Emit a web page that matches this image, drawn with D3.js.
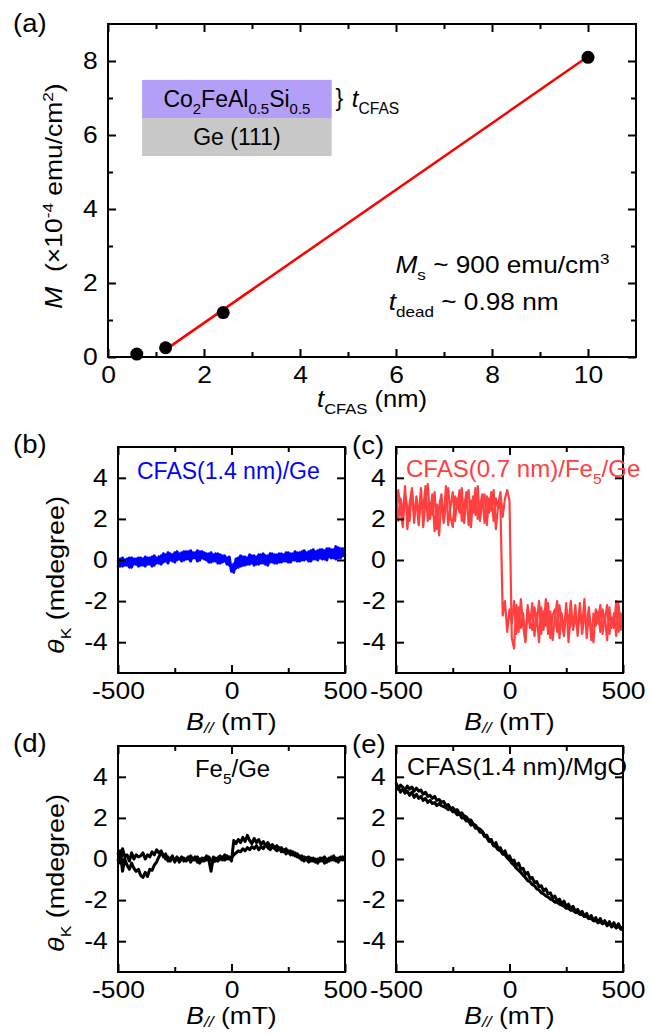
<!DOCTYPE html>
<html>
<head>
<meta charset="utf-8">
<script src="https://cdn.jsdelivr.net/npm/d3@7"></script>
<style>
  body { margin: 0; background: #fff; }
  svg text { font-family: 'Liberation Sans', Arial, Helvetica, sans-serif; white-space: pre; }
</style>
</head>
<body>
<svg id="fig" width="651" height="1035"></svg>
<script>
// --- (a) thickness dependence of magnetic moment ---
const tCFAS = [0.6, 1.2, 2.4, 10.0];          // nm
const moment = [0.08, 0.25, 1.2, 8.1];        // x1e-4 emu/cm2
const fitT = [1.2, 10.0];                     // linear fit, Ms ~ 900 emu/cm3, t_dead ~ 0.98 nm
const fitM = [0.2, 8.12];
const tMajor = [0, 2, 4, 6, 8, 10];
const tMinor = [1, 3, 5, 7, 9];
const mMajor = [0, 2, 4, 6, 8];
const mMinor = [1, 3, 5, 7];

// --- (b)-(e) Kerr loops, field sweep in mT ---
const field = [
  -500,-490,-480,-470,-460,-450,-440,-430,-420,-410,
  -400,-390,-380,-370,-360,-350,-340,-330,-320,-310,
  -300,-290,-280,-270,-260,-250,-240,-230,-220,-210,
  -200,-190,-180,-170,-160,-150,-140,-130,-120,-110,
  -100,-90,-80,-70,-60,-50,-40,-30,-20,-10,
  0,10,20,30,40,50,60,70,80,90,
  100,110,120,130,140,150,160,170,180,190,
  200,210,220,230,240,250,260,270,280,290,
  300,310,320,330,340,350,360,370,380,390,
  400,410,420,430,440,450,460,470,480,490,
  500];
const bMajor = [-500, 0, 500];
const bMinor = [-250, 250];
const kMajor = [-4, -2, 0, 2, 4];

// (b) CFAS(1.4 nm)/Ge
const kerrB1 = [
  -0.35,0.05,-0.3,0.0,-0.25,0.1,-0.35,0.05,-0.2,0.1,
  -0.25,0.05,-0.3,0.1,-0.2,0.15,-0.25,0.1,-0.15,0.2,
  -0.1,0.25,-0.15,0.3,-0.05,0.35,0.0,0.3,-0.05,0.4,
  0.05,0.4,-0.05,0.35,0.1,0.45,0.0,0.4,0.05,0.3,
  -0.1,0.35,-0.05,0.3,-0.15,0.25,-0.1,0.2,-0.2,0.15,
  -0.55,-0.2,-0.4,0.1,-0.3,0.15,-0.25,0.1,-0.2,0.2,
  -0.25,0.15,-0.2,0.25,-0.15,0.2,-0.25,0.3,-0.1,0.25,
  -0.15,0.3,-0.1,0.25,-0.05,0.35,-0.1,0.3,0.0,0.35,
  -0.05,0.4,0.0,0.35,-0.05,0.45,0.05,0.4,0.0,0.5,
  0.05,0.45,0.0,0.55,0.1,0.5,0.05,0.6,0.1,0.55,
  0.2];
const kerrB2 = [
  0.0,-0.3,0.1,-0.25,0.05,-0.35,0.1,-0.2,0.05,-0.3,
  0.1,-0.25,0.15,-0.2,0.1,-0.3,0.2,-0.15,0.15,-0.2,
  0.3,-0.05,0.35,0.0,0.25,-0.1,0.4,0.05,0.35,0.0,
  0.4,0.05,0.45,0.1,0.35,-0.05,0.4,0.1,0.35,0.0,
  0.3,-0.1,0.25,-0.05,0.3,-0.15,0.2,-0.05,0.1,-0.25,
  -0.3,-0.6,0.05,-0.35,0.2,-0.25,0.15,-0.2,0.25,-0.15,
  0.2,-0.2,0.25,-0.15,0.3,-0.2,0.2,-0.1,0.3,-0.15,
  0.25,-0.1,0.3,-0.05,0.35,-0.1,0.3,0.0,0.4,-0.05,
  0.35,0.0,0.45,0.05,0.4,-0.05,0.5,0.05,0.45,0.1,
  0.5,0.05,0.55,0.15,0.5,0.1,0.65,0.1,0.55,0.2,
  0.5];

// (c) CFAS(0.7 nm)/Fe5/Ge
const kerrC1 = [
  3.3,1.9,3.0,2.2,3.6,1.5,2.8,3.4,1.8,3.1,
  2.1,3.5,1.6,2.9,3.7,2.0,3.2,1.4,2.7,1.2,
  3.0,2.0,3.6,1.7,2.6,3.3,1.9,3.0,2.3,3.5,
  1.8,2.9,3.4,1.6,3.1,2.2,3.6,1.9,2.8,3.2,
  1.7,3.0,2.4,3.4,1.5,2.7,3.3,2.1,3.0,3.4,
  2.9,-3.8,-4.3,-2.2,-3.5,-1.9,-3.2,-4.0,-2.4,-3.3,
  -2.1,-3.7,-2.6,-4.0,-2.3,-3.4,-1.9,-3.6,-2.5,-3.9,
  -2.8,-2.0,-3.8,-2.6,-3.5,-2.1,-4.0,-2.7,-3.3,-2.2,
  -3.7,-2.5,-3.2,-1.9,-3.8,-2.6,-3.4,-4.0,-2.4,-3.1,
  -2.2,-3.6,-2.7,-3.9,-2.3,-3.3,-2.6,-3.7,-2.1,-3.4,
  -2.8];
const kerrC2 = [
  2.0,3.4,2.4,1.6,3.2,2.6,1.9,3.5,2.2,2.9,
  1.7,3.0,2.5,3.6,1.9,2.8,2.2,3.3,1.5,2.6,
  3.2,1.8,2.7,3.5,2.1,1.6,3.1,2.5,3.4,1.9,
  2.6,3.3,1.7,2.9,2.3,3.5,2.0,2.6,3.2,1.8,
  3.1,2.3,3.3,1.9,3.0,2.5,2.8,-2.7,-2.0,-3.5,
  -2.4,-3.1,-2.0,-3.6,-2.3,-3.3,-2.6,-3.9,-2.2,-3.0,
  -3.4,-2.3,-3.1,-2.0,-3.6,-2.5,-3.2,-2.1,-3.8,-2.7,
  -2.4,-3.5,-2.2,-3.0,-3.7,-2.4,-3.1,-2.0,-3.4,-2.8,
  -3.3,-2.1,-3.6,-2.7,-3.1,-2.3,-3.9,-2.6,-3.2,-2.5,
  -3.5,-2.4,-3.0,-2.2,-3.6,-2.8,-3.3,-2.0,-3.5,-2.6,
  -3.2];

// (d) Fe5/Ge
const kerrD1 = [
  0.3,-0.2,0.5,0.1,0.2,-0.1,0.3,0.0,0.2,0.1,
  0.15,0.3,0.0,0.2,0.1,0.35,0.2,0.45,0.3,0.4,
  0.1,0.25,-0.1,0.0,0.15,-0.15,0.05,-0.05,0.1,-0.1,
  0.0,0.1,-0.15,0.05,-0.05,0.1,-0.2,0.05,-0.1,0.15,
  -0.05,-0.6,0.1,-0.1,0.05,0.15,-0.05,0.2,0.0,0.1,
  -0.1,0.9,0.75,0.95,0.8,1.05,0.85,1.15,0.9,0.75,
  1.0,0.8,0.95,0.7,0.85,0.65,0.8,0.6,0.7,0.55,
  0.65,0.45,0.55,0.35,0.5,0.3,0.4,0.2,0.3,0.1,
  0.15,-0.05,0.1,0.0,-0.15,0.05,-0.1,0.0,-0.2,0.05,
  -0.1,0.1,-0.15,0.05,-0.05,0.15,-0.1,0.05,-0.05,0.1,
  0.0];
const kerrD2 = [
  -0.1,0.4,-0.6,0.0,-0.3,-0.5,-0.2,-0.45,-0.6,-0.5,
  -0.8,-0.9,-0.65,-0.85,-0.5,-0.55,-0.3,-0.15,0.1,0.3,
  0.2,0.0,0.1,-0.1,0.05,-0.05,0.1,-0.15,0.0,0.05,
  -0.1,0.0,0.15,-0.05,0.1,-0.15,0.0,-0.1,0.05,-0.05,
  0.1,-0.05,-0.15,0.05,-0.1,0.0,0.1,-0.05,0.15,0.0,
  0.05,0.2,0.3,0.4,0.35,0.5,0.4,0.55,0.45,0.6,
  0.5,0.65,0.45,0.6,0.5,0.7,0.55,0.45,0.6,0.5,
  0.4,0.55,0.35,0.45,0.25,0.4,0.2,0.35,0.15,0.25,
  0.05,0.15,-0.1,0.05,0.1,-0.1,0.05,-0.15,0.0,-0.1,
  0.05,-0.2,0.0,-0.1,0.1,-0.05,0.05,-0.15,0.1,-0.05,
  0.05];

// (e) CFAS(1.4 nm)/MgO
const kerrE1 = [
  3.7,3.45,3.6,3.5,3.35,3.55,3.4,3.5,3.3,3.45,
  3.3,3.35,3.15,3.25,3.05,3.1,2.95,3.05,2.85,2.9,
  2.75,2.8,2.6,2.65,2.45,2.5,2.35,2.4,2.2,2.25,
  2.1,2.05,1.9,1.9,1.7,1.65,1.5,1.45,1.35,1.15,
  1.15,0.9,0.95,0.65,0.8,0.5,0.55,0.25,0.4,0.1,
  0.15,-0.1,-0.05,-0.35,-0.2,-0.5,-0.45,-0.75,-0.65,-0.95,
  -0.9,-1.15,-1.1,-1.35,-1.3,-1.55,-1.45,-1.7,-1.65,-1.9,
  -1.8,-2.05,-1.95,-2.2,-2.05,-2.3,-2.2,-2.45,-2.3,-2.55,
  -2.45,-2.65,-2.55,-2.8,-2.65,-2.9,-2.75,-3.0,-2.85,-3.1,
  -2.9,-3.15,-3.0,-3.25,-3.05,-3.3,-3.1,-3.35,-3.15,-3.4,
  -3.3];
const kerrE2 = [
  3.35,3.5,3.25,3.4,3.2,3.3,3.1,3.25,3.0,3.15,
  2.95,3.05,2.85,2.95,2.75,2.85,2.7,2.75,2.6,2.7,
  2.6,2.55,2.5,2.4,2.45,2.3,2.3,2.15,2.2,2.0,
  2.0,1.85,1.85,1.65,1.7,1.5,1.5,1.3,1.3,1.1,
  1.05,0.85,0.85,0.65,0.6,0.45,0.4,0.25,0.2,0.05,
  -0.05,-0.2,-0.3,-0.45,-0.55,-0.65,-0.8,-0.9,-1.05,-1.1,
  -1.25,-1.3,-1.45,-1.5,-1.65,-1.7,-1.8,-1.85,-1.95,-2.0,
  -2.1,-2.1,-2.2,-2.25,-2.3,-2.4,-2.4,-2.5,-2.5,-2.6,
  -2.6,-2.7,-2.7,-2.8,-2.8,-2.9,-2.9,-3.0,-3.0,-3.1,
  -3.05,-3.15,-3.1,-3.2,-3.15,-3.3,-3.2,-3.35,-3.25,-3.4,
  -3.45];

const FS = 23;     // tamanho base do texto
const SX = 1.15;   // a fonte do original é mais larga que a Arial
const svg = d3.select("#fig");
svg.append("rect").attr("width", 651).attr("height", 1035).attr("fill", "#fff");

// texto com itálico / subscrito / sobrescrito ("low" = subscrito pouco deslocado)
function rich(parent, parts, size, x, y, opt = {}) {
  const sx = opt.sx || 1;
  let tr = `translate(${x},${y})`;
  if (opt.rot) tr += ` rotate(${opt.rot})`;
  tr += ` scale(${sx},1)`;
  const t = parent.append("text").attr("font-size", size).attr("fill", opt.color || "#000")
    .attr("transform", tr).attr("text-anchor", opt.anchor || "start");
  let shift = 0;
  parts.forEach(p => {
    const [str, kind = ""] = Array.isArray(p) ? p : [p];
    const sub = kind.includes("sub") || kind.includes("low"), sup = kind.includes("sup");
    const target = kind.includes("low") ? size * 0.12 : sub ? size * 0.3 : sup ? -size * 0.4 : 0;
    const ts = t.append("tspan").text(str).attr("dy", target - shift);
    shift = target;
    if (sub || sup) ts.attr("font-size", size * 0.65);
    if (kind.startsWith("i")) ts.attr("font-style", "italic");
  });
  return t;
}

function styleAxis(s) {
  s.select(".domain").remove();
  s.selectAll("line").attr("stroke", "#000").attr("stroke-width", 2);
  s.selectAll("text").attr("font-size", FS).attr("fill", "#000")
    .attr("font-family", "'Liberation Sans', Arial, sans-serif")
    .attr("transform", `scale(${SX},1)`);
}

function drawAxes(g, x, y, o) {
  const w = x.range()[1], h = y.range()[0];
  const fmt = d => String(d), none = () => "";
  g.append("g").attr("transform", `translate(0,${h})`)
    .call(d3.axisBottom(x).tickValues(o.xMajor).tickSize(-8).tickPadding(10).tickFormat(fmt)).call(styleAxis);
  g.append("g").call(d3.axisTop(x).tickValues(o.xMajor).tickSize(-8).tickFormat(none)).call(styleAxis);
  g.append("g").call(d3.axisLeft(y).tickValues(o.yMajor).tickSize(-8).tickPadding(9).tickFormat(fmt)).call(styleAxis);
  g.append("g").attr("transform", `translate(${w},0)`)
    .call(d3.axisRight(y).tickValues(o.yMajor).tickSize(-8).tickFormat(none)).call(styleAxis);
  if (o.xMinor) {
    g.append("g").attr("transform", `translate(0,${h})`)
      .call(d3.axisBottom(x).tickValues(o.xMinor).tickSize(-5).tickFormat(none)).call(styleAxis);
    g.append("g").call(d3.axisTop(x).tickValues(o.xMinor).tickSize(-5).tickFormat(none)).call(styleAxis);
  }
  if (o.yMinor) {
    g.append("g").call(d3.axisLeft(y).tickValues(o.yMinor).tickSize(-5).tickFormat(none)).call(styleAxis);
    g.append("g").attr("transform", `translate(${w},0)`)
      .call(d3.axisRight(y).tickValues(o.yMinor).tickSize(-5).tickFormat(none)).call(styleAxis);
  }
  g.append("rect").attr("width", w).attr("height", h)
    .attr("fill", "none").attr("stroke", "#000").attr("stroke-width", 2);
}

// --- painel (a) ---
const A = { left: 108, top: 24, right: 636, bottom: 357 };
const xa = d3.scaleLinear([0, 11], [0, A.right - A.left]);
const ya = d3.scaleLinear([0, 9], [A.bottom - A.top, 0]);
const ga = svg.append("g").attr("transform", `translate(${A.left},${A.top})`);

// inset: esquema da amostra
ga.append("rect").attr("x", xa(0.71)).attr("y", ya(7.49))
  .attr("width", xa(4.66) - xa(0.71)).attr("height", ya(6.46) - ya(7.49)).attr("fill", "#b39ff7");
ga.append("rect").attr("x", xa(0.71)).attr("y", ya(6.46))
  .attr("width", xa(4.66) - xa(0.71)).attr("height", ya(5.43) - ya(6.46)).attr("fill", "#c8c8c8");
rich(ga, ["Co", ["2", "sub"], "FeAl", ["0.5", "sub"], "Si", ["0.5", "sub"]], FS, xa(2.685), ya(6.76), { anchor: "middle" });
rich(ga, ["Ge (111)"], FS, xa(2.685), ya(5.73), { anchor: "middle" });
rich(ga, ["}"], FS, xa(4.74), ya(6.78));
rich(ga, [["t", "i"], ["CFAS", "sub"]], FS + 1, xa(5.08), ya(6.76));

ga.append("path")
  .datum(d3.zip(fitT, fitM))
  .attr("d", d3.line().x(d => xa(d[0])).y(d => ya(d[1])))
  .attr("stroke", "#ff0000").attr("stroke-width", 2.5).attr("fill", "none");
ga.selectAll("circle").data(d3.zip(tCFAS, moment)).join("circle")
  .attr("cx", d => xa(d[0])).attr("cy", d => ya(d[1])).attr("r", 6.5).attr("fill", "#000");

drawAxes(ga, xa, ya, { xMajor: tMajor, xMinor: tMinor, yMajor: mMajor, yMinor: mMinor });

rich(ga, [["M", "i"], ["s", "sub"], " ~ 900 emu/cm", ["3", "sup"]], FS, xa(5.99), ya(2.27), { sx: 1.14 });
rich(ga, [["t", "i"], ["dead", "sub"], " ~ 0.98 nm"], FS, xa(5.85), ya(1.27), { sx: 1.14 });

rich(svg, [["t", "i"], ["CFAS", "sub"], " (nm)"], FS, (A.left + A.right) / 2, 407, { anchor: "middle", sx: 1.11 });
rich(svg, [["M", "i"], "  (×10", ["-4", "sup"], " emu/cm", ["2", "sup"], ")"], FS, 62, 196,
  { anchor: "middle", rot: -90, sx: SX });
rich(svg, ["(a)"], 25, 13, 32, { sx: 1.1 });

// --- painéis (b)-(e) ---
const panels = [
  { tag: "(b)", left: 118, top: 447, runs: [kerrB1, kerrB2], color: "#0000ff", width: 3,
    note: ["CFAS(1.4 nm)/Ge"], noteX: 19, noteY: 32, noteSx: 1.0, ylab: true, ylabY: 575, xlabDy: 57 },
  { tag: "(c)", left: 396, top: 447, runs: [kerrC1, kerrC2], color: "#ff4040", width: 2.2,
    note: ["CFAS(0.7 nm)/Fe", ["5", "sub"], "/Ge"], noteX: 10, noteY: 30, noteSx: 1.045, ylab: false, xlabDy: 57 },
  { tag: "(d)", left: 118, top: 746, runs: [kerrD1, kerrD2], color: "#000", width: 3,
    note: ["Fe", ["5", "sub"], "/Ge"], noteX: 77, noteY: 31, noteSx: 1.04, ylab: true, ylabY: 873, xlabDy: 52 },
  { tag: "(e)", left: 396, top: 746, runs: [kerrE1, kerrE2], color: "#000", width: 3,
    note: ["CFAS(1.4 nm)/MgO"], noteX: 11, noteY: 29, noteSx: 1.09, ylab: false, xlabDy: 52 }
];
const PW = 227, PH = 226;

panels.forEach(p => {
  const x = d3.scaleLinear([-500, 500], [0, PW]);
  const y = d3.scaleLinear([-5.5, 5.5], [PH, 0]);
  const g = svg.append("g").attr("transform", `translate(${p.left},${p.top})`);
  const line = d3.line().x((d, i) => x(field[i])).y(d => y(d));
  g.selectAll("path.run").data(p.runs).join("path").attr("class", "run")
    .attr("d", line).attr("fill", "none").attr("stroke", p.color)
    .attr("stroke-width", p.width).attr("stroke-linejoin", "round");
  drawAxes(g, x, y, { xMajor: bMajor, xMinor: bMinor, yMajor: kMajor });
  rich(g, p.note, FS, p.noteX, p.noteY, { sx: p.noteSx, color: p.color });
  rich(svg, [["B", "i"], ["//", "ilow"], " (mT)"], FS, p.left + PW / 2, p.top + PH + p.xlabDy,
    { anchor: "middle", sx: SX });
  if (p.ylab) {
    rich(svg, [["θ", "i"], ["K", "sub"], " (mdegree)"], FS, 64, p.ylabY, { anchor: "middle", rot: -90, sx: 1.17 });
    rich(svg, [p.tag], 25, 13, p.top + 6, { sx: 1.1 });
  } else {
    rich(svg, [p.tag], 25, 352, p.top + 7, { sx: 1.1 });
  }
});
</script>
</body>
</html>
